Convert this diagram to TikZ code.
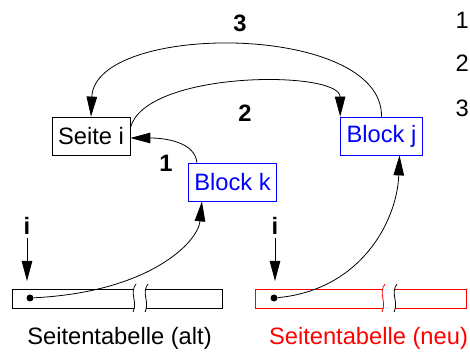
\documentclass[tikz,border=0pt]{standalone}
\usepackage{fontspec}
\setmainfont{Liberation Sans}
\usepackage{tikz}
\usetikzlibrary{positioning,arrows.meta}

\begin{document}
\begin{tikzpicture}[x=1pt,y=1pt,on grid,line width=0.8pt,>={Triangle[length=20pt,width=10.5pt]},font=\fontsize{23.7}{28}\selectfont]
        \tikzstyle{page}=[draw,inner xsep=6pt,minimum height=38pt]
        \tikzstyle{block}=[page,draw=blue,text=blue]
        \tikzstyle{dot}=[circle,fill,inner sep=0pt,minimum size=7pt]
        \useasboundingbox (0,0) rectangle (470,352);
        \node[page] (Si) at (91,216) {Seite i};
        \node[block] (Bj) [right=290.5pt of Si] {Block j};
        \node[block] (Bk) [below right=46pt and 141.5pt of Si] {Block k};
        % alte und neue Seitentabelle
        \draw (12,44) rectangle (222,63);
        \fill[white] (136,68) .. controls (129,59) and (138,50) .. (133,40) -- (145,40) .. controls (150,50) and (141,59) .. (148,68) -- cycle;
        \draw (136,68) .. controls (129,59) and (138,50) .. (133,40);
        \draw (148,68) .. controls (141,59) and (150,50) .. (145,40);
        \draw[red] (255,44) rectangle (466,63);
        \fill[white] (385,68) .. controls (378,59) and (387,50) .. (382,40) -- (394,40) .. controls (399,50) and (390,59) .. (397,68) -- cycle;
        \draw[red] (385,68) .. controls (378,59) and (387,50) .. (382,40);
        \draw (397,68) .. controls (390,59) and (399,50) .. (394,40);
        \node[anchor=base] (Ta) at (119.5,7) {Seitentabelle (alt)};
        \node[anchor=base,text=red] (Tn) at (368.5,7) {Seitentabelle (neu)};
        \node[dot] (Da) at (30,54) {};
        \node[dot] (Dn) at (274,54) {};
        \node (Ia) at (27,126) {\textbf{i}};
        \node (In) at (275,126) {\textbf{i}};
        \coordinate (Pa) at (27,71);
        \coordinate (Pn) at (275,71);
        \draw[->] (Ia) -- (Pa);
        \draw[->] (In) -- (Pn);
        % Zeiger
        \draw[->] (Da) .. controls (150,60) and (198,110) .. ([xshift=14pt]Bk.south west);
        \draw[->] (Dn) .. controls (360,62) and (397,130) .. ([xshift=18pt]Bj.south);
        \draw[->] ([xshift=9pt]Bk.north west) .. controls (195,210) and (165,214) .. ([yshift=-2pt]Si.east);
        \draw[->] ([yshift=8pt]Si.east) .. controls (145,282) and (340,282) .. (Bj.north west);
        \draw[->] (Bj.north) .. controls (383,330) and (95,330) .. (Si.north);
        \node (N1) at (166,189) {\textbf{1}};
        \node (N2) at (245,239) {\textbf{2}};
        \node (N3) at (240,329) {\textbf{3}};
        \node[anchor=west] (L1) at (452,332) {1};
        \node[anchor=west] (L2) at (452,289) {2};
        \node[anchor=west] (L3) at (452,244) {3};
    \end{tikzpicture}
\end{document}
